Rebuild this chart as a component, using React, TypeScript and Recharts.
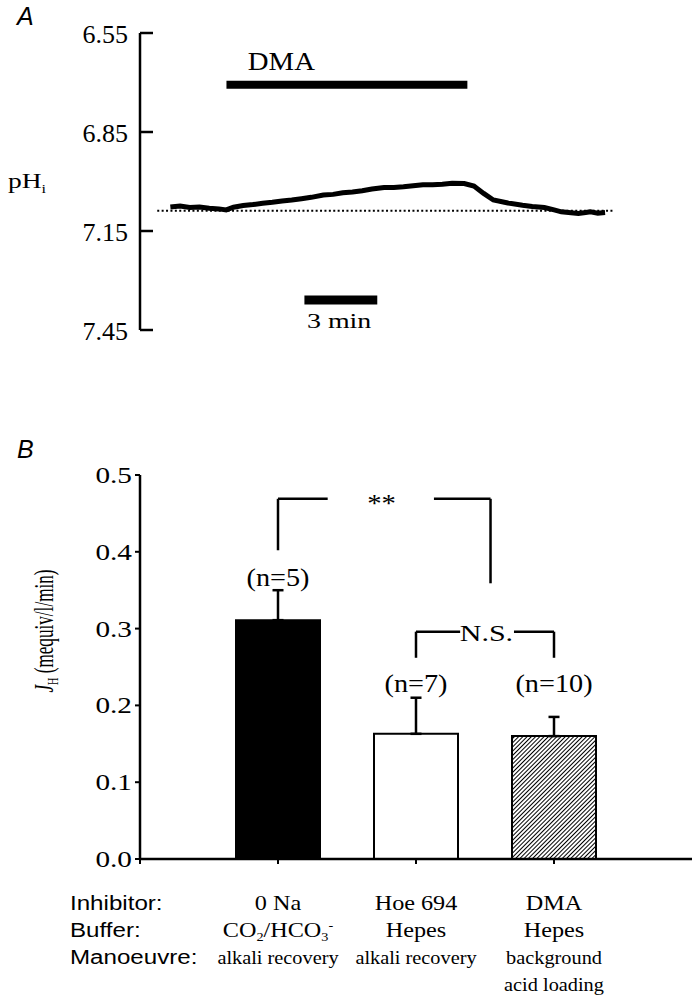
import React from "react";
import {
  LineChart,
  Line,
  ComposedChart,
  Bar,
  Cell,
  ErrorBar,
  XAxis,
  YAxis,
  ReferenceLine,
  ReferenceDot,
  Label,
} from "recharts";

const SERIF = '"Liberation Serif", "Times New Roman", serif';
const SANS = '"Liberation Sans", Arial, sans-serif';

// ---------- panel A: pHi trace ----------
const traceMin = [
  0, 0.4, 0.8, 1.2, 1.6, 2.0, 2.3, 2.6, 3.0, 3.4, 3.8, 4.2, 4.6, 5.0, 5.4, 5.8, 6.3, 6.7, 7.1, 7.5, 7.9, 8.3,
  8.8, 9.2, 9.6, 10.0, 10.4, 10.8, 11.2, 11.6, 12.1, 12.5, 12.9, 13.3, 13.9, 14.5, 14.9, 15.4, 15.8, 16.1,
  16.5, 16.8, 17.1, 17.3, 17.6, 17.9,
];
const tracePh = [
  7.077, 7.074, 7.079, 7.077, 7.081, 7.083, 7.086, 7.078, 7.073, 7.07, 7.066, 7.063, 7.059, 7.056, 7.052,
  7.048, 7.041, 7.039, 7.034, 7.032, 7.028, 7.023, 7.018, 7.018, 7.016, 7.013, 7.01, 7.01, 7.008, 7.005,
  7.006, 7.014, 7.036, 7.056, 7.065, 7.072, 7.076, 7.079, 7.086, 7.092, 7.095, 7.097, 7.094, 7.092, 7.096,
  7.094,
];
const phTicks = [6.55, 6.85, 7.15, 7.45];
const restingPh = 7.089;
const restingSpan = [-0.54, 18.24];
const dmaSpan = [2.31, 12.23];
const dmaBarPh = 6.707;
const dmaTextAt = [4.57, 6.636];
const scaleBarSpan = [5.52, 8.52];
const scaleBarPh = 7.359;
const scaleTextAt = [6.95, 7.42];

// ---------- panel B: acid extrusion ----------
const barPos = [1, 2, 3];
const inhibitors = ["0 Na", "Hoe 694", "DMA"];
const buffers = ["CO2/HCO3-", "Hepes", "Hepes"];
const manoeuvres = [["alkali recovery"], ["alkali recovery"], ["background", "acid loading"]];
const meanFlux = [0.311, 0.163, 0.16];
const semFlux = [0.039, 0.047, 0.025];
const nCells = [5, 7, 10];
const nLabelY = [0.367, 0.229, 0.229];
const barFills = ["#000", "#fff", "url(#hatch)"];
const rowHeaders = ["Inhibitor:", "Buffer:", "Manoeuvre:"];
const fluxTicks = [0, 0.1, 0.2, 0.3, 0.4, 0.5];

// significance brackets (x in bar positions, y in flux units)
const starBracket = { x1: 1, x2: 2.54, top: 0.469, drop1: 0.402, drop2: 0.359, gap1: 1.36, gap2: 2.13, textX: 1.75 };
const nsBracket = { x1: 2, x2: 3, top: 0.296, drop: 0.262, gap1: 2.32, gap2: 2.71, textX: 2.51 };

const traceData = traceMin.map((t, i) => ({ t, ph: tracePh[i] }));
const barData = barPos.map((x, i) => ({ x, flux: meanFlux[i], err: [0, semFlux[i]] }));

// text with a stretch around its anchor point (the scan is a bit wide)
function SText({ x, y, size, family = SERIF, sx = 1, sy = 1, anchor = "middle", rotate = 0, children }: any) {
  const tf = `translate(${x} ${y})${rotate ? ` rotate(${rotate})` : ""} scale(${sx} ${sy})`;
  return (
    <text transform={tf} x={0} y={0} textAnchor={anchor} fill="#000" style={{ fontFamily: family, fontSize: size }}>
      {children}
    </text>
  );
}

const centerLabel = (text: string, size: number, sx: number) => (p: any) => {
  const vb = p.viewBox || {};
  const cx = (vb.x || 0) + (vb.width || 0) / 2;
  const cy = (vb.y || 0) + (vb.height || 0) / 2;
  return (
    <SText x={cx} y={cy + size * 0.34} size={size} sx={sx}>
      {text}
    </SText>
  );
};

function PhTick({ x, y, payload }: any) {
  return (
    <g>
      <SText x={x} y={y + 10} size={25} sx={1.04} anchor="end">
        {Number(payload.value).toFixed(2)}
      </SText>
      <line x1={x + 12} x2={x + 25} y1={y} y2={y} stroke="#000" strokeWidth={2.5} />
    </g>
  );
}

function PhLabel({ viewBox }: any) {
  return (
    <SText x={viewBox.x + 8} y={viewBox.y + 155} size={22} sx={1.25} anchor="start">
      pH
      <tspan style={{ fontSize: 13 }} dy={5}>
        i
      </tspan>
    </SText>
  );
}

function FluxTick({ x, y, payload }: any) {
  return (
    <SText x={x} y={y + 8} size={24} sx={1.22} anchor="end">
      {Number(payload.value).toFixed(1)}
    </SText>
  );
}

function BufferText({ x, y, label }: any) {
  if (label !== "CO2/HCO3-") {
    return (
      <SText x={x} y={y} size={22} sx={1.1}>
        {label}
      </SText>
    );
  }
  return (
    <SText x={x} y={y} size={22} sx={1.1}>
      CO
      <tspan style={{ fontSize: 13 }} dy={4}>
        2
      </tspan>
      <tspan dy={-4}>/HCO</tspan>
      <tspan style={{ fontSize: 13 }} dy={4}>
        3
      </tspan>
      <tspan style={{ fontSize: 13 }} dy={-12}>
        -
      </tspan>
    </SText>
  );
}

function ConditionTick({ x, y, payload }: any) {
  const v = payload.value;
  if (v === 0) {
    return (
      <g>
        {rowHeaders.map((h, r) => (
          <SText key={h} x={x - 70} y={y + 46 + r * 27} size={21} sx={1.15} family={SANS} anchor="start">
            {h}
          </SText>
        ))}
      </g>
    );
  }
  const k = barPos.indexOf(v);
  return (
    <g>
      <SText x={x} y={y + 46} size={22} sx={1.1}>
        {inhibitors[k]}
      </SText>
      <BufferText x={x} y={y + 73} label={buffers[k]} />
      {manoeuvres[k].map((m, j) => (
        <SText key={m} x={x} y={y + 100 + j * 27} size={19} sx={1.07}>
          {m}
        </SText>
      ))}
    </g>
  );
}

function FluxLabel({ viewBox }: any) {
  return (
    <SText x={viewBox.x + 53} y={viewBox.y + 156} size={22} sx={0.78} sy={1.2} rotate={-90}>
      <tspan style={{ fontStyle: "italic" }}>J</tspan>
      <tspan style={{ fontSize: 13 }} dy={4}>
        H
      </tspan>
      <tspan dy={-4}> (mequiv/l/min)</tspan>
    </SText>
  );
}

function PhTrace() {
  return (
    <LineChart width={698} height={345} data={traceData} margin={{ top: 33, right: 48, bottom: 15, left: 0 }}>
      <XAxis type="number" dataKey="t" domain={[-1.25, 19.75]} hide />
      <YAxis
        type="number"
        domain={[6.55, 7.45]}
        reversed
        ticks={phTicks}
        interval={0}
        width={140}
        tickSize={0}
        tickMargin={12}
        tickLine={false}
        axisLine={{ stroke: "#000", strokeWidth: 2.5 }}
        tick={<PhTick />}
      >
        <Label content={<PhLabel />} />
      </YAxis>
      <ReferenceLine
        segment={[{ x: restingSpan[0], y: restingPh }, { x: restingSpan[1], y: restingPh }]}
        stroke="#000"
        strokeWidth={2}
        strokeDasharray="2 2.4"
      />
      <ReferenceLine
        segment={[{ x: dmaSpan[0], y: dmaBarPh }, { x: dmaSpan[1], y: dmaBarPh }]}
        stroke="#000"
        strokeWidth={8}
      />
      <ReferenceDot x={dmaTextAt[0]} y={dmaTextAt[1]} r={0} fill="none" stroke="none">
        <Label content={centerLabel("DMA", 25, 1.15)} />
      </ReferenceDot>
      <ReferenceLine
        segment={[{ x: scaleBarSpan[0], y: scaleBarPh }, { x: scaleBarSpan[1], y: scaleBarPh }]}
        stroke="#000"
        strokeWidth={9}
      />
      <ReferenceDot x={scaleTextAt[0]} y={scaleTextAt[1]} r={0} fill="none" stroke="none">
        <Label content={centerLabel("3 min", 22, 1.27)} />
      </ReferenceDot>
      <Line type="linear" dataKey="ph" stroke="#000" strokeWidth={5} dot={false} isAnimationActive={false} />
    </LineChart>
  );
}

function FluxBars() {
  const seg = (x1: number, y1: number, x2: number, y2: number, key: string) => (
    <ReferenceLine key={key} segment={[{ x: x1, y: y1 }, { x: x2, y: y2 }]} stroke="#000" strokeWidth={2.5} />
  );
  return (
    <ComposedChart width={698} height={561} data={barData} margin={{ top: 35, right: 6, bottom: 0, left: 0 }}>
      <defs>
        <pattern id="hatch" width="3" height="3" patternUnits="userSpaceOnUse" patternTransform="rotate(45)">
          <rect width="3" height="3" fill="#fff" />
          <line x1="0" y1="0" x2="0" y2="3" stroke="#000" strokeWidth="2" />
        </pattern>
      </defs>
      <XAxis
        type="number"
        dataKey="x"
        domain={[0, 4]}
        ticks={[0, ...barPos]}
        interval={0}
        height={142}
        tickSize={5}
        tickMargin={0}
        axisLine={{ stroke: "#000", strokeWidth: 2.5 }}
        tickLine={{ stroke: "#000", strokeWidth: 2 }}
        tick={<ConditionTick />}
      />
      <YAxis
        type="number"
        domain={[0, 0.5]}
        ticks={fluxTicks}
        interval={0}
        width={140}
        tickSize={5}
        tickMargin={3}
        axisLine={{ stroke: "#000", strokeWidth: 2.5 }}
        tickLine={{ stroke: "#000", strokeWidth: 2 }}
        tick={<FluxTick />}
      >
        <Label content={<FluxLabel />} />
      </YAxis>
      {seg(starBracket.x1, starBracket.top, starBracket.gap1, starBracket.top, "s1")}
      {seg(starBracket.x1, starBracket.top, starBracket.x1, starBracket.drop1, "s2")}
      {seg(starBracket.gap2, starBracket.top, starBracket.x2, starBracket.top, "s3")}
      {seg(starBracket.x2, starBracket.top, starBracket.x2, starBracket.drop2, "s4")}
      {seg(nsBracket.x1, nsBracket.top, nsBracket.gap1, nsBracket.top, "n1")}
      {seg(nsBracket.x1, nsBracket.top, nsBracket.x1, nsBracket.drop, "n2")}
      {seg(nsBracket.gap2, nsBracket.top, nsBracket.x2, nsBracket.top, "n3")}
      {seg(nsBracket.x2, nsBracket.top, nsBracket.x2, nsBracket.drop, "n4")}
      <ReferenceDot x={starBracket.textX} y={starBracket.top - 0.006} r={0} fill="none" stroke="none">
        <Label content={centerLabel("**", 26, 1.1)} />
      </ReferenceDot>
      <ReferenceDot x={nsBracket.textX} y={nsBracket.top - 0.002} r={0} fill="none" stroke="none">
        <Label content={centerLabel("N.S.", 24, 1.25)} />
      </ReferenceDot>
      {barPos.map((x, i) => (
        <ReferenceDot key={`n${x}`} x={x} y={nLabelY[i]} r={0} fill="none" stroke="none">
          <Label content={centerLabel(`(n=${nCells[i]})`, 25, 1.13)} />
        </ReferenceDot>
      ))}
      <Bar dataKey="flux" barSize={84} stroke="#000" strokeWidth={2} isAnimationActive={false}>
        {barData.map((d, i) => (
          <Cell key={d.x} fill={barFills[i]} />
        ))}
        <ErrorBar dataKey="err" direction="y" width={5.5} stroke="#000" strokeWidth={2.5} />
      </Bar>
    </ComposedChart>
  );
}

export default function App() {
  return (
    <div style={{ position: "absolute", left: 0, top: 0, width: 698, height: 1001, background: "#fff" }}>
      <div style={{ position: "absolute", left: 0, top: 0 }}>
        <PhTrace />
      </div>
      <div style={{ position: "absolute", left: 0, top: 440 }}>
        <FluxBars />
      </div>
      <div style={{ position: "absolute", left: 17, top: 4, font: `italic 25px/25px ${SANS}`, color: "#000" }}>
        A
      </div>
      <div style={{ position: "absolute", left: 17, top: 437, font: `italic 25px/25px ${SANS}`, color: "#000" }}>
        B
      </div>
    </div>
  );
}
